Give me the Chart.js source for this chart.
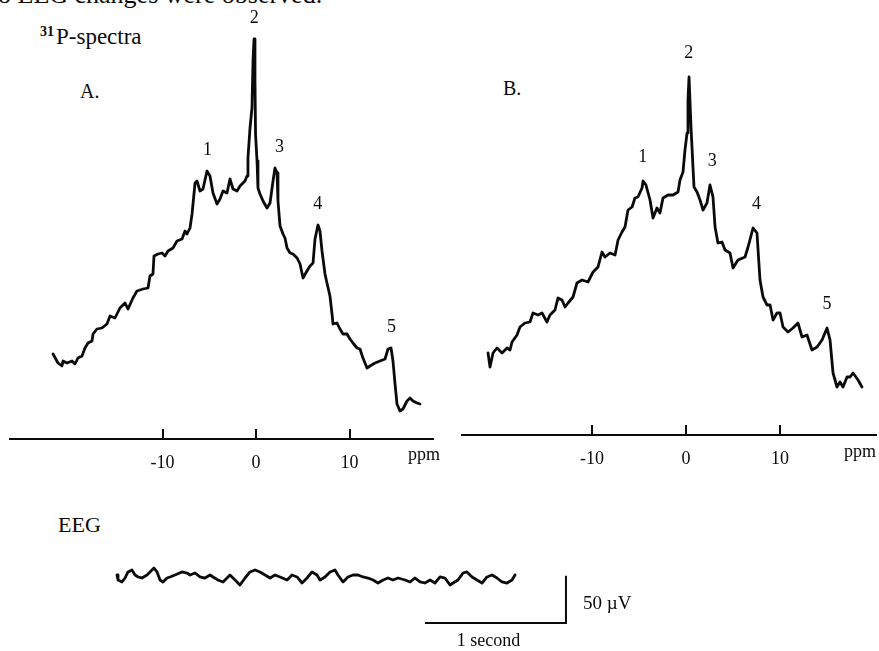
<!DOCTYPE html>
<html>
<head>
<meta charset="utf-8">
<script src="https://cdn.jsdelivr.net/npm/chart.js@4.4.1/dist/chart.umd.min.js"></script>
<style>
  html, body { margin: 0; padding: 0; background: #fff; }
  #page { position: relative; width: 879px; height: 651px; overflow: hidden; background: #fff;
          font-family: "Liberation Serif", "Times New Roman", serif; color: #0a0a0a; }
  canvas { position: absolute; }
  .t { position: absolute; white-space: nowrap; line-height: 1; }
</style>
</head>
<body>
<div id="page">
  <div class="t" style="left:-2px; top:-18px; font-size:26px;">o EEG changes were observed.</div>
  <div class="t" style="left:40px; top:25px; font-size:23px;"><span style="position:relative; top:-8px; font-size:14px; font-weight:bold; margin-right:2px;">31</span>P-spectra</div>
  <div class="t" style="left:80px; top:81px; font-size:20px;">A.</div>
  <div class="t" style="left:503px; top:78px; font-size:20px;">B.</div>
  <div class="t" style="left:58px; top:514px; font-size:22px;">EEG</div>

  <canvas id="specA" width="440" height="469" style="left:0; top:0;"></canvas>
  <canvas id="specB" width="439" height="465" style="left:440px; top:0;"></canvas>
  <canvas id="eeg" width="550" height="111" style="left:100px; top:540px;"></canvas>

  <div class="t" style="left:408px; top:445px; font-size:18px;">ppm</div>
  <div class="t" style="left:844px; top:442px; font-size:18px;">ppm</div>
</div>

<script>
// ---- 31P spectra: chemical shift (ppm) and signal intensity (arbitrary units) ----
const ppmA = [-21.71,-21.18,-20.75,-20.64,-20.21,-19.68,-19.36,-19.04,-18.61,-18.29,
  -17.97,-17.54,-17.43,-17.01,-16.47,-15.94,-15.61,-15.08,-14.55,-14.01,
  -13.69,-13.16,-12.73,-12.09,-11.55,-11.34,-11.02,-10.91,-10.48,-10.05,
  -9.73,-9.41,-8.88,-8.45,-7.91,-7.59,-7.38,-7.06,-6.84,-6.52,
  -6.31,-5.99,-5.67,-5.24,-4.92,-4.60,-4.17,-3.85,-3.53,-3.10,
  -2.78,-2.46,-2.03,-1.71,-1.18,-0.96,-0.86,-0.64,-0.43,-0.32,
  -0.21,-0.11,-0.05,0.11,0.21,0.43,0.75,1.18,1.50,1.82,
  2.03,2.25,2.35,2.57,2.89,3.10,3.32,3.64,3.96,4.39,
  4.71,5.03,5.45,5.78,6.10,6.31,6.63,6.84,7.06,7.38,
  7.59,7.91,8.13,8.24,8.66,8.98,9.30,9.73,10.05,10.37,
  10.80,11.12,11.44,11.87,12.19,12.73,13.26,13.80,14.12,14.44,
  14.65,14.87,15.08,15.40,15.72,16.15,16.47,16.79,17.22,17.54];
const intensityA = [85,76,73,78,76,78,75,81,83,91,
  96,98,105,110,111,115,123,121,131,136,
  130,141,148,150,151,163,165,183,185,186,
  183,188,191,198,200,208,205,211,225,256,
  258,248,250,268,263,246,235,240,248,246,
  260,250,248,253,258,263,281,311,331,378,
  400,358,305,278,251,245,238,231,236,258,
  271,266,238,213,205,201,191,186,185,181,
  175,161,168,173,176,200,214,208,188,165,
  156,143,125,115,116,110,105,105,100,96,
  91,90,81,71,73,76,78,80,90,91,
  78,55,35,28,30,38,41,38,36,35];

const ppmB = [-21.06,-20.85,-20.53,-20.11,-19.57,-19.04,-18.72,-18.51,-17.98,-17.66,
  -17.13,-16.60,-16.28,-15.74,-15.32,-14.79,-14.47,-13.94,-13.62,-13.19,
  -12.87,-12.55,-12.02,-11.60,-11.06,-10.43,-9.89,-9.36,-8.94,-8.62,
  -8.09,-7.55,-7.23,-6.81,-6.49,-6.17,-5.74,-5.43,-5.11,-4.68,
  -4.57,-4.26,-3.83,-3.51,-3.09,-2.77,-2.45,-1.91,-1.38,-0.85,
  -0.64,-0.32,-0.11,0.11,0.21,0.32,0.53,0.74,0.85,1.17,
  1.49,1.81,2.23,2.55,2.87,3.09,3.40,3.83,4.15,4.68,
  5.00,5.53,6.28,6.60,7.13,7.55,7.87,8.19,8.62,8.94,
  9.26,9.68,10.00,10.32,10.85,11.38,11.91,12.34,12.87,13.40,
  13.94,14.47,15.00,15.32,15.64,16.06,16.38,16.70,17.13,17.45,
  17.77,18.30,18.72];
const intensityB = [82,68,82,87,82,87,85,93,100,108,
  112,113,122,120,122,113,120,125,137,135,
  128,132,138,152,155,153,163,168,183,178,
  182,180,195,203,208,225,228,237,238,247,
  254,250,235,217,227,222,237,240,240,243,
  255,263,285,302,335,358,308,268,248,243,
  235,225,232,250,238,208,192,193,185,182,
  167,175,178,188,207,202,155,138,130,130,
  115,122,122,108,103,107,112,98,100,85,
  88,95,107,95,62,48,53,48,58,58,
  62,55,48];

const peakNames = ['1', '2', '3', '4', '5'];
const peakPpmA = [-5.2, -0.2, 2.5, 6.6, 14.5];
const peakPpmB = [-4.6, 0.3, 2.8, 7.5, 15.0];
const ppmTicks = [-10, 0, 10];

// ---- EEG trace: time (s) and potential (µV) ----
const eegSeconds = [0.000,0.007,0.035,0.057,0.078,0.106,0.128,0.149,0.177,0.213,
  0.234,0.262,0.284,0.305,0.326,0.355,0.376,0.411,0.461,0.496,
  0.518,0.553,0.589,0.624,0.660,0.681,0.716,0.752,0.780,0.801,
  0.837,0.872,0.908,0.943,0.979,1.014,1.050,1.085,1.121,1.156,
  1.206,1.241,1.277,1.312,1.348,1.383,1.418,1.440,1.475,1.511,
  1.546,1.567,1.603,1.638,1.674,1.709,1.745,1.780,1.816,1.851,
  1.887,1.922,1.957,1.993,2.043,2.078,2.113,2.149,2.184,2.220,
  2.255,2.291,2.326,2.362,2.383,2.418,2.454,2.482,2.518,2.553,
  2.589,2.624,2.660,2.695,2.730,2.766,2.801,2.823];
const eegMicrovolts = [3.2,-2.1,-4.2,0,6.4,8.5,3.2,1.1,0,3.2,
  6.4,10.6,6.4,-2.1,-4.2,0,1.1,3.2,6.4,5.3,
  3.2,5.3,1.1,0,3.2,1.1,-2.1,-4.2,0,3.2,
  -2.1,-7.4,0,6.4,8.5,6.4,3.2,0,3.2,1.1,
  -2.1,3.2,1.1,-5.3,0,6.4,3.2,-2.1,1.1,6.4,
  8.5,3.2,-4.2,1.1,3.2,3.2,1.1,0,-2.1,-5.3,
  -2.1,0,-2.1,0,-2.1,-4.2,0,-4.2,-5.3,-2.1,
  -5.3,1.1,0,-7.4,-5.3,-2.1,5.3,6.4,1.1,-2.1,
  -5.3,1.1,3.2,0,-4.2,-5.3,-2.1,3.2];
const scaleBarSeconds = 1;
const scaleBarMicrovolts = 50;

// ---- drawing ----
const INK = '#0a0a0a';
const SERIF = '"Liberation Serif", "Times New Roman", serif';
const AXIS_H = 30;

function toPoints(xs, ys) { return xs.map((x, i) => ({ x, y: ys[i] })); }

// short upright tick marks standing on the ppm axis
const tickMarks = {
  id: 'tickMarks',
  afterDraw(chart) {
    const { ctx, chartArea, scales: { x } } = chart;
    ctx.save();
    ctx.strokeStyle = INK;
    ctx.lineWidth = 2;
    x.ticks.forEach(t => {
      const px = Math.round(x.getPixelForValue(t.value));
      ctx.beginPath();
      ctx.moveTo(px, chartArea.bottom);
      ctx.lineTo(px, chartArea.bottom - 10);
      ctx.stroke();
    });
    ctx.restore();
  }
};

// numbers written above each resonance
function peakLabels(peakPpm, gap) {
  return {
    id: 'peakLabels',
    afterDatasetsDraw(chart) {
      const { ctx, scales: { x, y } } = chart;
      const pts = chart.data.datasets[0].data;
      ctx.save();
      ctx.fillStyle = INK;
      ctx.font = '18px ' + SERIF;
      ctx.textAlign = 'center';
      ctx.textBaseline = 'middle';
      peakPpm.forEach((p, i) => {
        let top = -Infinity;
        pts.forEach(pt => { if (Math.abs(pt.x - p) <= 0.55) top = Math.max(top, pt.y); });
        ctx.fillText(peakNames[i], x.getPixelForValue(p), y.getPixelForValue(top) - gap);
      });
      ctx.restore();
    }
  };
}

function spectrumChart(id, ppm, intensity, peakPpm, view) {
  return new Chart(document.getElementById(id), {
    type: 'line',
    data: {
      datasets: [{
        data: toPoints(ppm, intensity),
        borderColor: INK,
        borderWidth: 2.8,
        borderJoinStyle: 'round',
        borderCapStyle: 'round',
        pointRadius: 0,
        tension: 0,
        fill: false
      }]
    },
    options: {
      responsive: false,
      animation: false,
      devicePixelRatio: 1,
      layout: { padding: { left: view.padLeft, right: view.padRight, top: 0, bottom: 0 } },
      plugins: { legend: { display: false }, tooltip: { enabled: false } },
      scales: {
        x: {
          type: 'linear',
          min: view.min,
          max: view.max,
          grid: { display: false },
          border: { display: true, color: INK, width: 2 },
          afterBuildTicks: s => { s.ticks = ppmTicks.map(v => ({ value: v })); },
          afterFit: s => { s.height = AXIS_H; },
          ticks: {
            padding: 5,
            color: INK,
            maxRotation: 0,
            autoSkip: false,
            font: { family: SERIF, size: 18 },
            callback: v => String(v)
          }
        },
        y: { type: 'linear', display: false, min: 0, max: view.yMax }
      }
    },
    plugins: [tickMarks, peakLabels(peakPpm, view.labelGap)]
  });
}

spectrumChart('specA', ppmA, intensityA, peakPpmA,
  { min: -26.31, max: 18.93, yMax: 439, padLeft: 10, padRight: 7, labelGap: 21 });
spectrumChart('specB', ppmB, intensityB, peakPpmB,
  { min: -23.83, max: 20.21, yMax: 435, padLeft: 22, padRight: 3, labelGap: 24 });

// calibration bars: 1 second horizontally, 50 µV vertically
const scaleBar = {
  id: 'scaleBar',
  afterDraw(chart) {
    const { ctx, scales: { x, y } } = chart;
    const t0 = 3.184, v0 = -47.7;
    const xr = x.getPixelForValue(t0);
    const xl = x.getPixelForValue(t0 - scaleBarSeconds);
    const yb = y.getPixelForValue(v0);
    const yt = y.getPixelForValue(v0 + scaleBarMicrovolts);
    ctx.save();
    ctx.strokeStyle = INK;
    ctx.lineWidth = 2;
    ctx.beginPath();
    ctx.moveTo(xl, yb);
    ctx.lineTo(xr, yb);
    ctx.lineTo(xr, yt);
    ctx.stroke();
    ctx.fillStyle = INK;
    ctx.textBaseline = 'middle';
    ctx.font = '19px ' + SERIF;
    ctx.textAlign = 'left';
    ctx.fillText(scaleBarMicrovolts + ' µV', xr + 17, y.getPixelForValue(v0 + 20));
    ctx.font = '18px ' + SERIF;
    ctx.textAlign = 'center';
    ctx.fillText(scaleBarSeconds + ' second', x.getPixelForValue(t0 - 0.55 * scaleBarSeconds), yb + 18);
    ctx.restore();
  }
};

new Chart(document.getElementById('eeg'), {
  type: 'line',
  data: {
    datasets: [{
      data: toPoints(eegSeconds, eegMicrovolts),
      borderColor: INK,
      borderWidth: 2.8,
      borderJoinStyle: 'round',
      borderCapStyle: 'round',
      pointRadius: 0,
      tension: 0,
      fill: false
    }]
  },
  options: {
    responsive: false,
    animation: false,
    devicePixelRatio: 1,
    layout: { padding: 0 },
    plugins: { legend: { display: false }, tooltip: { enabled: false } },
    scales: {
      x: { type: 'linear', display: false, min: -0.1206, max: 3.780 },
      y: { type: 'linear', display: false, min: -77.4, max: 40.3 }
    }
  },
  plugins: [scaleBar]
});
</script>
</body>
</html>
